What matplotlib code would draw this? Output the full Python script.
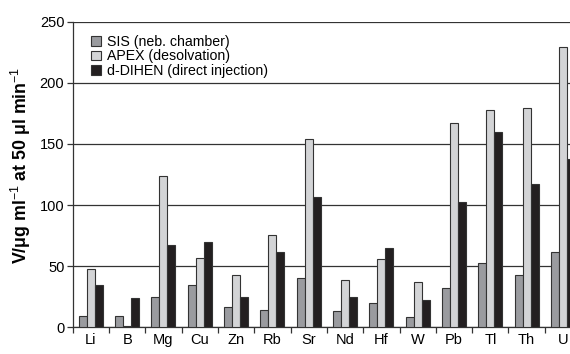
import numpy as np
import matplotlib.pyplot as plt

plt.rcParams['font.family'] = ['Liberation Sans', 'DejaVu Sans']
plt.rcParams['mathtext.fontset'] = 'custom'
plt.rcParams['mathtext.rm'] = 'Liberation Sans'
plt.rcParams['mathtext.bf'] = 'Liberation Sans:bold'

elements = ['Li', 'B', 'Mg', 'Cu', 'Zn', 'Rb', 'Sr', 'Nd', 'Hf', 'W', 'Pb', 'Tl', 'Th', 'U']
sis = [9.5, 9, 24.5, 35, 17, 14, 40, 13, 19.7, 8.7, 32, 52.7, 42.6, 61.5]
apex = [47.5, 1, 124, 57, 43, 75.6, 154, 39, 55.7, 37, 167, 177.5, 179, 229.7]
dihen = [35, 24, 67, 70, 25, 61.7, 107, 25, 65, 22, 102.7, 159.5, 117, 137.7]
labels = ['SIS (neb. chamber)', 'APEX (desolvation)', 'd-DIHEN (direct injection)']
colors = ['#9a9b9f', '#d3d4d6', '#231f20']

fig = plt.figure(figsize=(5.7, 3.54), dpi=100)
ax = fig.add_axes([0.1275, 0.0754, 0.892, 0.8633])

x = np.arange(len(elements))
w = 0.22
for i, (vals, lab, c) in enumerate(zip([sis, apex, dihen], labels, colors)):
    ax.bar(x + (i - 1) * w, vals, w, color=c, edgecolor='#333333', linewidth=0.8,
           label=lab, zorder=3)

ax.set_xlim(-0.5, len(elements) - 0.5)
ax.set_ylim(0, 250)
ax.set_yticks(np.arange(0, 251, 50))
ax.yaxis.grid(True, color='#333333', linewidth=0.9, zorder=0)
ax.set_xticks(np.arange(-0.5, len(elements), 1))
ax.set_xticklabels([])
ax.set_xticks(x, minor=True)
ax.set_xticklabels(elements, minor=True, fontsize=10.5)
ax.tick_params(axis='x', which='minor', length=0, pad=4)
ax.tick_params(axis='x', which='major', length=4, width=0.9, color='#333333')
ax.tick_params(axis='y', length=4, width=0.9, labelsize=10.5, color='#333333', pad=2)
for s in ['top', 'right']:
    ax.spines[s].set_visible(False)
for s in ['left', 'bottom']:
    ax.spines[s].set_color('#333333')
    ax.spines[s].set_linewidth(0.9)

ax.set_ylabel('V/\u03bcg ml$^{\\mathrm{-1}}$ at 50 \u03bcl min$^{\\mathrm{-1}}$',
              fontsize=12.8, fontweight='bold', labelpad=5)
ax.yaxis.set_label_coords(-0.078, 0.53)

leg = ax.legend(loc='upper left', bbox_to_anchor=(0.02, 0.985), frameon=False,
                fontsize=10.2, handlelength=0.7, handleheight=0.7, handletextpad=0.4,
                labelspacing=0.05, borderaxespad=0.2)

fig.savefig('out.png', dpi=100)
